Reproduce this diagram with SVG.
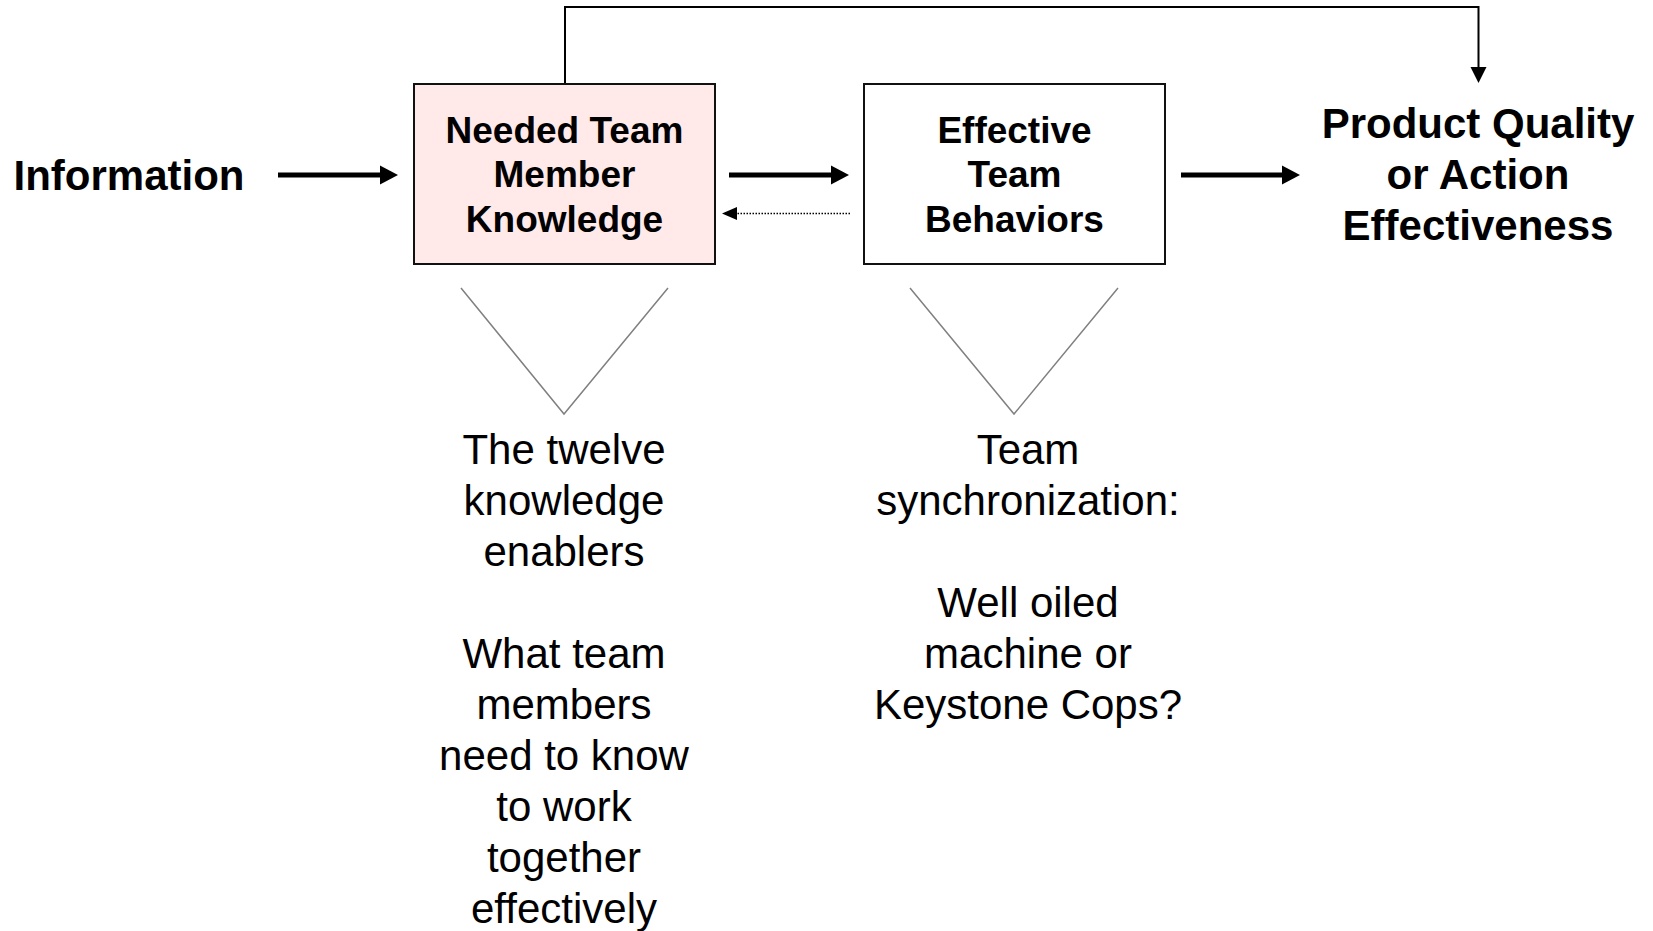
<svg xmlns="http://www.w3.org/2000/svg" width="1653" height="931" viewBox="0 0 1653 931">
<style>
.bold{font-family:"Liberation Sans",Arial,sans-serif;font-weight:bold;fill:#000;text-anchor:middle}
.reg{font-family:"Liberation Sans",Arial,sans-serif;font-weight:normal;fill:#000;text-anchor:middle;font-size:42px}
.box{stroke:#111;stroke-width:2}
.thick{stroke:#000;stroke-width:5;fill:none}
.vee{stroke:#808080;stroke-width:1.5;fill:none}
</style>
<rect x="0" y="0" width="1653" height="931" fill="#fff"/>
<g id="connectors">
  <path d="M278 175 H381" class="thick"/>
  <polygon points="398,175 380,165.5 380,184.5" fill="#000"/>
  <path d="M729 175 H833" class="thick"/>
  <polygon points="849,175 831,165.5 831,184.5" fill="#000"/>
  <path d="M1181 175 H1284" class="thick"/>
  <polygon points="1300,175 1282,165.5 1282,184.5" fill="#000"/>
  <path d="M850 213.5 H736" stroke="#000" stroke-width="1.5" stroke-dasharray="1.5 1.5" fill="none"/>
  <polygon points="722,213.5 737,207 737,220" fill="#000"/>
  <path d="M565 84 V7 H1478.5 V70" stroke="#000" stroke-width="2" fill="none"/>
  <polygon points="1478.5,83 1470.5,67 1486.5,67" fill="#000"/>
  <path d="M461 288 L564 414 L668 288" class="vee"/>
  <path d="M910 288 L1014 414 L1118 288" class="vee"/>
</g>
<g id="information">
  <text class="bold" x="129" y="190" font-size="42">Information</text>
</g>
<g id="knowledge">
  <rect x="414" y="84" width="301" height="180" fill="#FFE9E9" class="box"/>
  <text class="bold" font-size="37" x="564.5" y="143">Needed Team</text>
  <text class="bold" font-size="37" x="564.5" y="187">Member</text>
  <text class="bold" font-size="37" x="564.5" y="232">Knowledge</text>
</g>
<g id="behaviors">
  <rect x="864" y="84" width="301" height="180" fill="#fff" class="box"/>
  <text class="bold" font-size="37" x="1014.5" y="143">Effective</text>
  <text class="bold" font-size="37" x="1014.5" y="187">Team</text>
  <text class="bold" font-size="37" x="1014.5" y="232">Behaviors</text>
</g>
<g id="product">
  <text class="bold" font-size="42" x="1478" y="138">Product Quality</text>
  <text class="bold" font-size="42" x="1478" y="189">or Action</text>
  <text class="bold" font-size="42" x="1478" y="240">Effectiveness</text>
</g>
<g id="enablers">
  <text class="reg" x="564" y="464">The twelve</text>
  <text class="reg" x="564" y="515">knowledge</text>
  <text class="reg" x="564" y="566">enablers</text>
  <text class="reg" x="564" y="668">What team</text>
  <text class="reg" x="564" y="719">members</text>
  <text class="reg" x="564" y="770">need to know</text>
  <text class="reg" x="564" y="821">to work</text>
  <text class="reg" x="564" y="872">together</text>
  <text class="reg" x="564" y="923">effectively</text>
</g>
<g id="synchronization">
  <text class="reg" x="1028" y="464">Team</text>
  <text class="reg" x="1028" y="515">synchronization:</text>
  <text class="reg" x="1028" y="617">Well oiled</text>
  <text class="reg" x="1028" y="668">machine or</text>
  <text class="reg" x="1028" y="719">Keystone Cops?</text>
</g>
</svg>
